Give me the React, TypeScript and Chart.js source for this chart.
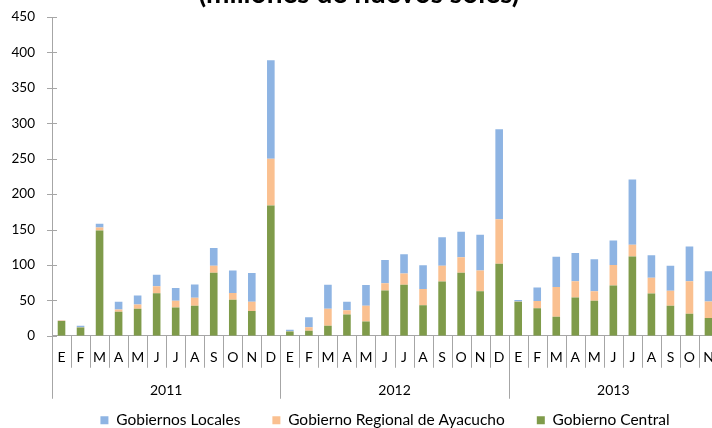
import React, { useEffect, useRef } from 'react';
import { Chart, registerables } from 'chart.js';

Chart.register(...registerables);

const months = [
  'E', 'F', 'M', 'A', 'M', 'J', 'J', 'A', 'S', 'O', 'N', 'D',
  'E', 'F', 'M', 'A', 'M', 'J', 'J', 'A', 'S', 'O', 'N', 'D',
  'E', 'F', 'M', 'A', 'M', 'J', 'J', 'A', 'S', 'O', 'N',
];
const years = ['2011', '2012', '2013'];
const monthsPerYear = [12, 12, 11];

const gobiernoCentral = [
  21, 11.5, 148.5, 34, 38, 60, 40, 42.5, 89, 51, 35, 184,
  6, 7, 14, 30, 20, 64, 72, 43, 76.5, 89, 63, 101.5,
  48, 39, 27, 54, 49.5, 71, 112, 59.5, 42.5, 31, 25,
];
const gobiernoRegional = [
  0.5, 0.5, 4.5, 3, 6, 10, 9.5, 11, 10, 9.5, 13, 66,
  0.5, 5, 24, 6, 22.5, 10, 16, 23, 22.5, 22, 29, 63,
  0.5, 10, 42, 23, 13.5, 29, 16.5, 22.5, 21, 46, 23.5,
];
const gobiernosLocales = [
  0.5, 2, 5, 11, 13, 16, 18, 19, 25, 31.5, 40.5, 139,
  2, 14, 34, 12, 29, 33, 27, 33.5, 40, 36, 50.5, 127,
  2, 19, 42.5, 40, 45, 34.5, 92, 31.5, 35.5, 49, 42.5,
];

const titleText = '(millones de nuevos soles)';
const yTicks = { min: 0, max: 450, step: 50 };

const FONT = 'Lato, "Open Sans", sans-serif';
const AXIS_COLOR = '#A6A6A6';

const excelAxes = {
  id: 'excelAxes',
  afterDraw(chart: any) {
    const ctx = chart.ctx;
    const xs = chart.scales.x;
    const ys = chart.scales.y;
    const n = months.length;
    const cw = (xs.right - xs.left) / n;
    const base = ys.getPixelForValue(0);
    ctx.save();
    ctx.strokeStyle = AXIS_COLOR;
    ctx.lineWidth = 1;
    const line = (x1: number, y1: number, x2: number, y2: number) => {
      ctx.beginPath();
      ctx.moveTo(x1, y1);
      ctx.lineTo(x2, y2);
      ctx.stroke();
    };
    ys.ticks.forEach((_t: any, i: number) => {
      const py = Math.round(ys.getPixelForTick(i)) + 0.5;
      line(xs.left - 5, py, xs.left + 5, py);
    });
    for (let k = 0; k <= n; k++) {
      const px = Math.round(xs.left + k * cw) + 0.5;
      line(px, base, px, base + 32);
    }
    let acc = 0;
    const bounds = [0];
    monthsPerYear.forEach((c) => { acc += c; bounds.push(acc); });
    bounds.forEach((b) => {
      const px = Math.round(xs.left + b * cw) + 0.5;
      line(px, base, px, base + 63);
    });
    ctx.fillStyle = '#000';
    ctx.font = `14px ${FONT}`;
    ctx.textAlign = 'center';
    ctx.textBaseline = 'middle';
    months.forEach((m, i) => {
      ctx.fillText(m, xs.getPixelForValue(i), base + 22);
    });
    let start = 0;
    years.forEach((yr, i) => {
      const c = monthsPerYear[i];
      const cx = xs.left + (start + c / 2) * cw;
      ctx.fillText(yr, cx, base + 55);
      start += c;
    });
    ctx.restore();
  },
};

export default function App() {
  const ref = useRef<HTMLCanvasElement>(null);
  useEffect(() => {
    if (!ref.current) return;
    const chart = new Chart(ref.current, {
      type: 'bar',
      data: {
        labels: months,
        datasets: [
          { label: 'Gobierno Central', data: gobiernoCentral, backgroundColor: '#7F9B4A', borderWidth: 0 },
          { label: 'Gobierno Regional de Ayacucho', data: gobiernoRegional, backgroundColor: '#FAC090', borderWidth: 0 },
          { label: 'Gobiernos Locales', data: gobiernosLocales, backgroundColor: '#8EB4E3', borderWidth: 0 },
        ],
      },
      options: {
        responsive: false,
        animation: false,
        devicePixelRatio: 1,
        datasets: { bar: { barPercentage: 0.4, categoryPercentage: 1 } },
        layout: { padding: { left: 0, right: 6, top: 0, bottom: 0 } },
        scales: {
          x: {
            stacked: true,
            ticks: { display: false },
            grid: { display: false, drawTicks: false },
            border: { display: true, color: AXIS_COLOR },
            afterFit: (s: any) => { s.height = 44.75; },
          },
          y: {
            stacked: true,
            min: yTicks.min,
            max: yTicks.max,
            ticks: { stepSize: yTicks.step, color: '#000', font: { family: FONT, size: 13.5 }, padding: 17 },
            grid: { display: false, drawTicks: false },
            border: { display: true, color: AXIS_COLOR },
            afterFit: (s: any) => { s.width = 52; },
          },
        },
        plugins: {
          title: {
            display: true,
            text: titleText,
            color: '#000',
            font: { family: FONT, size: 28, weight: 'bold', lineHeight: 1.2 },
            padding: { top: 6.7, bottom: 6.7 },
          },
          legend: {
            position: 'bottom',
            fullSize: false,
            reverse: true,
            labels: {
              boxWidth: 8,
              boxHeight: 8,
              padding: 32,
              color: '#000',
              font: { family: FONT, size: 15.5 },
            },
          },
          tooltip: { enabled: false },
        },
      },
      plugins: [excelAxes],
    });
    return () => chart.destroy();
  }, []);
  return (
    <div style={{ position: 'absolute', left: 0, top: 0, width: 712, height: 428, overflow: 'hidden', background: '#fff' }}>
      <div style={{ position: 'absolute', left: 0, top: -30, width: 724, height: 467.75 }}>
        <canvas ref={ref} width={724} height={468} />
      </div>
    </div>
  );
}
